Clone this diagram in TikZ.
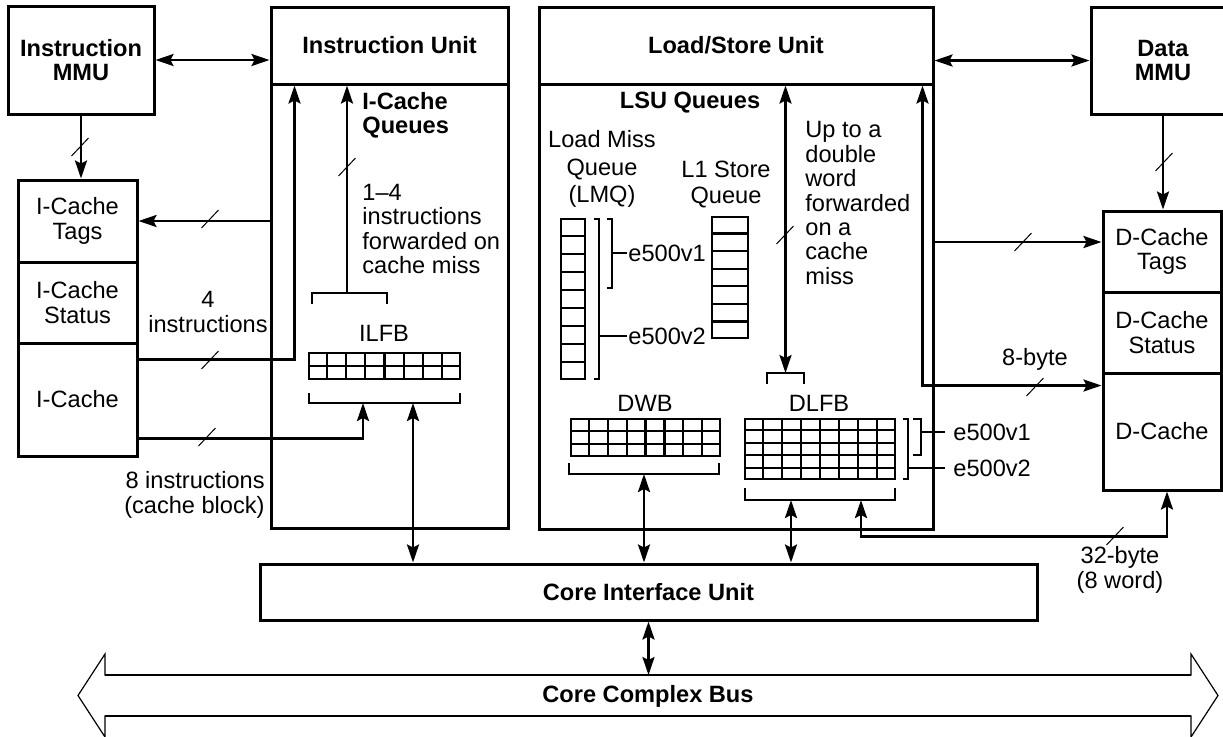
\documentclass[tikz,border=0pt]{standalone}
\usepackage{fontspec}
\setmainfont{Liberation Sans}
\usetikzlibrary{arrows.meta,calc}
\newcommand{\dsize}{\fontsize{11.8pt}{12.2pt}\selectfont}
\tikzset{
  >={Stealth[length=9pt,width=6pt,inset=1.5pt]},
  box/.style     ={draw,line width=1.5pt,inner sep=0pt,align=center,font=\dsize},
  unit/.style    ={box,font=\dsize\bfseries},
  gridbox/.style ={draw,line width=1.1pt,inner sep=0pt},
  gridline/.style={line width=1.1pt},
  lbl/.style     ={inner sep=0pt,align=center},
  flow/.style    ={->,line width=1.2pt},
  both/.style    ={<->,line width=1.2pt},
  brk/.style     ={line width=1.1pt},
  slash/.style   ={line width=0.5pt},
}
\newcommand{\slashat}[1]{\draw[slash] ($#1+(-8.5,9)$) -- ($#1+(8.5,-9)$);}
\newcommand{\cellgrid}[3]{%
  \foreach \i in {1,...,#2}{\ifnum\i<#2 \draw[gridline] ($(#1.north west)!\i/#2!(#1.north east)$) -- ($(#1.south west)!\i/#2!(#1.south east)$);\fi}
  \foreach \j in {1,...,#3}{\ifnum\j<#3 \draw[gridline] ($(#1.north west)!\j/#3!(#1.south west)$) -- ($(#1.north east)!\j/#3!(#1.south east)$);\fi}}

\begin{document}
\begin{tikzpicture}[x=0.5pt,y=-0.5pt,font=\dsize]
\useasboundingbox (0,0) rectangle (1223,736);
% units
\node[unit,minimum width=73pt,minimum height=54pt] (immu) at (81,60) {Instruction\\MMU};
\node[box,minimum width=118.5pt,minimum height=222pt] (iubody) at (389.5,306) {};
\node[unit,minimum width=118.5pt,minimum height=38.5pt] (iu) at (389.5,45.5) {Instruction Unit};
\node[box,minimum width=197pt,minimum height=222.5pt] (lsubody) at (736,306.5) {};
\node[unit,minimum width=197pt,minimum height=38.5pt] (lsu) at (736,45.5) {Load/Store Unit};
\node[unit,minimum width=72pt,minimum height=53.5pt] (dmmu) at (1163,60.5) {Data\\MMU};
% caches
\node[box,minimum width=59.5pt,minimum height=41pt] (itags) at (77.5,221) {I-Cache\\Tags};
\node[box,minimum width=59.5pt,minimum height=40.5pt] (istat) at (77.5,302.5) {I-Cache\\Status};
\node[box,minimum width=59.5pt,minimum height=56.5pt] (icache) at (77.5,399.5) {I-Cache};
\node[box,minimum width=59pt,minimum height=40.5pt] (dtags) at (1162,251.5) {D-Cache\\Tags};
\node[box,minimum width=59pt,minimum height=40.5pt] (dstat) at (1162,332.5) {D-Cache\\Status};
\node[box,minimum width=59pt,minimum height=58.5pt] (dcache) at (1162,431.5) {D-Cache};
\node[unit,minimum width=388.5pt,minimum height=28pt] (ciu) at (648.5,592) {Core Interface Unit};
% bus
\draw[line width=0.6pt,line join=miter] (105,675) -- (1191,675) -- (1191,654) -- (1218,695.5) -- (1191,737) -- (1191,716)
  -- (105,716) -- (105,737) -- (78,695.5) -- (105,654) -- cycle;
\draw[line width=1.1pt] (105,675) -- (1191,675) (105,716) -- (1191,716);
\node[lbl,font=\dsize\bfseries] (bus) at (648,696) {Core Complex Bus};
\coordinate (bustop) at (648,675);
% I-cache queues
\node[lbl,font=\dsize\bfseries,anchor=west,align=left] (iqlbl) at (362,115) {I-Cache\\Queues};
\node[lbl,anchor=west,align=left] (fwdlbl) at (362,229) {1--4\\instructions\\forwarded on\\cache miss};
\node[lbl] (ilfblbl) at (384,333) {ILFB};
\node[gridbox,minimum width=75.5pt,minimum height=13pt] (ilfb) at (384.5,366) {};
\cellgrid{ilfb}{8}{2}
\draw[brk] (312,304) |- (387,293) -- (387,304);
\draw[brk] (309,393) |- (460,403) -- (460,393);
\coordinate (ilfbtop) at (347,293);
\coordinate (ilfbbr) at (384.5,403);
\coordinate (ilfbio) at (413,403);
\node[lbl] (fourlbl) at (208,312) {4\\instructions};
\node[lbl,anchor=east,align=right] (eightlbl) at (265,495) {8 instructions\\(cache block)};
% LSU queues
\node[lbl,font=\dsize\bfseries] (lsuqlbl) at (690,103) {LSU Queues};
\node[lbl] (lmqlbl) at (602,169) {Load Miss\\[1.6pt]Queue\\[1.6pt](LMQ)};
\node[lbl] (stqlbl) at (726,184) {L1 Store\\[0.8pt]Queue};
\node[lbl,anchor=west,align=left] (dwlbl) at (805,203) {Up to a\\double\\word\\forwarded\\on a\\cache\\miss};
\node[gridbox,minimum width=12pt,minimum height=80pt] (lmq) at (573,299) {};
\cellgrid{lmq}{1}{9}
\node[gridbox,minimum width=18pt,minimum height=60.5pt] (stq) at (730,277.5) {};
\cellgrid{stq}{1}{7}
\draw[brk] (594,219) -| (599,379) -- (594,379);
\draw[brk] (599,336) -- (627,336);
\draw[brk] (607,219) -| (612,288) -- (607,288);
\draw[brk] (612,253) -- (627,253);
\node[lbl,anchor=west] (lmqv1) at (628,253) {e500v1};
\node[lbl,anchor=west] (lmqv2) at (628,336) {e500v2};
\node[lbl] (dwblbl) at (645,403) {DWB};
\node[lbl] (dlfblbl) at (819,403) {DLFB};
\node[gridbox,minimum width=74.5pt,minimum height=18.5pt] (dwb) at (645.5,437.5) {};
\cellgrid{dwb}{8}{3}
\node[gridbox,minimum width=75pt,minimum height=30pt] (dlfb) at (820,449) {};
\cellgrid{dlfb}{8}{5}
\draw[brk] (569,463) |- (719,474) -- (719,463);
\draw[brk] (745,488) |- (895,500) -- (895,488);
\draw[brk] (767,384) |- (804,373) -- (804,384);
\draw[brk] (903,419) -| (908,479) -- (903,479);
\draw[brk] (908,468) -- (945,468);
\draw[brk] (913,419) -| (921,455) -- (913,455);
\draw[brk] (921,432) -- (945,432);
\node[lbl,anchor=west] (dlfbv1) at (953,432) {e500v1};
\node[lbl,anchor=west] (dlfbv2) at (953,468) {e500v2};
\coordinate (dlfbtop) at (785.5,373);
\coordinate (dwbio) at (644,474);
\coordinate (dlfbio) at (791,500);
\coordinate (dlfbbr) at (820,500);
\coordinate (dt) at ($(dtags.west)+(0,-9.5)$);
\node[lbl] (bytelbl) at (1035,359) {8-byte};
\node[lbl] (blocklbl) at (1120,570) {32-byte\\(8 word)};
% connectors
\draw[both] (immu.east) -- (immu.east -| iu.west);
\draw[both] (dmmu.west -| lsu.east) -- (dmmu.west);
\draw[flow] (immu.south) -- (immu.south |- itags.north);
\draw[flow] (dmmu.south) -- (dmmu.south |- dtags.north);
\draw[flow] (itags.east -| iubody.west) -- (itags.east);
\draw[flow] ($(istat.south east)+(0,15)$) -| ($(iu.south west)+(25,0)$);
\draw[flow] ($(icache.south east)+(0,-19)$) -| ($(ilfbbr)+(-21.5,0)$);
\draw[flow] (ilfbtop) -- (ilfbtop |- iu.south);
\draw[both] (ilfbio) -- (ilfbio |- ciu.north);
\draw[both] (dlfbtop |- lsu.south) -- (dlfbtop);
\draw[both] ($(lsu.south east)+(-12,0)$) |- ($(dcache.north west)+(0,14)$);
\draw[flow] (dt -| lsubody.east) -- (dt);
\draw[both] (dwbio) -- (dwbio |- ciu.north);
\draw[both] (dlfbio) -- (dlfbio |- ciu.north);
\draw[both] ($(dlfbbr)+(41,0)$) |- ($(dcache.south)+(5,45)$) -- ($(dcache.south)+(5,0)$);
\draw[both] (ciu.south) -- (ciu.south |- bustop);
% bus-width marks
\slashat{(80,147)}
\slashat{(210,219)}
\slashat{(210,360)}
\slashat{(207,437)}
\slashat{(347,167)}
\slashat{(785,235)}
\slashat{(1164,162)}
\slashat{(1023,242)}
\slashat{(1035,387)}
\slashat{(1115,536)}
\end{tikzpicture}
\end{document}
